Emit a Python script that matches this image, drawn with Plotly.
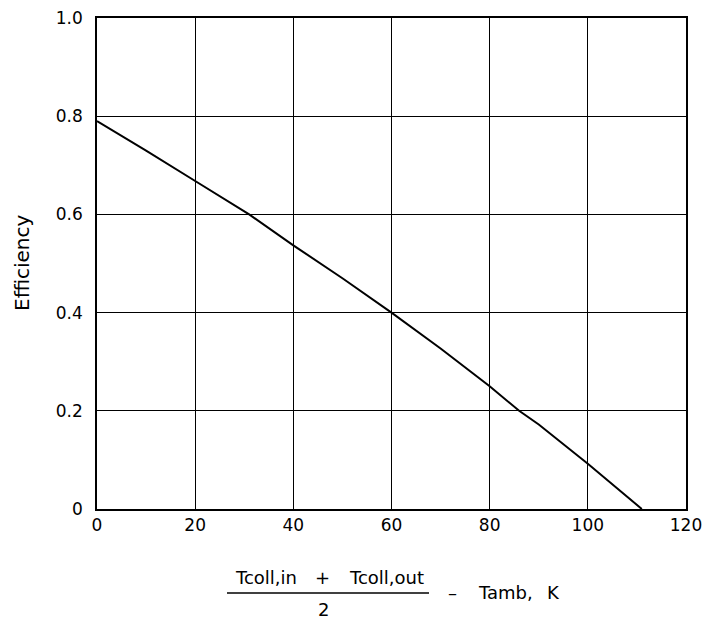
import plotly.graph_objects as go

# Data
temp_diff = [0, 10, 20, 31, 40, 50, 60, 70, 80, 86, 90, 100, 111]
efficiency = [0.79, 0.73, 0.668, 0.60, 0.537, 0.47, 0.40, 0.327, 0.25, 0.20, 0.172, 0.092, 0.0]

x_ticks = [0, 20, 40, 60, 80, 100, 120]
y_ticks = [0, 0.2, 0.4, 0.6, 0.8, 1.0]
y_tick_labels = ["0", "0.2", "0.4", "0.6", "0.8", "1.0"]

W, H = 708, 620
L, R, T, B = 97, 22, 18, 111

PL, PT, PR, PB = L, T, W - R, H - B


def px(xp):
    return (xp - PL) / (PR - PL)


def py(yp):
    return (PB - yp) / (PB - PT)


fig = go.Figure()
fig.add_trace(go.Scatter(x=temp_diff, y=efficiency, mode="lines",
                         line=dict(color="black", width=2), showlegend=False))

fam = "DejaVu Sans, Liberation Sans, Arial, sans-serif"
tick_font = dict(family=fam, size=17, color="black")
title_font = dict(family=fam, size=20, color="black")
xt_font = dict(family=fam, size=18, color="black")

fig.update_layout(
    width=W, height=H,
    margin=dict(l=L, r=R, t=T, b=B, autoexpand=False),
    paper_bgcolor="white", plot_bgcolor="white",
    font=tick_font,
    xaxis=dict(range=[0, 120], tickvals=x_ticks, showgrid=True, gridcolor="black",
               gridwidth=1, showline=True, linecolor="black", linewidth=1.5, mirror=True,
               zeroline=False, ticks="", ticklen=0, tickfont=tick_font, automargin=False,
               ticklabeloverflow="allow"),
    yaxis=dict(range=[0, 1.0], tickvals=y_ticks, ticktext=y_tick_labels, showgrid=True,
               gridcolor="black", gridwidth=1, showline=True, linecolor="black",
               linewidth=1.5, mirror=True, zeroline=False, ticks="outside", ticklen=9,
               tickcolor="rgba(0,0,0,0)", tickfont=tick_font, automargin=False,
               ticklabeloverflow="allow"),
)


def note(text, x, y, font, xanchor="center", **kw):
    fig.add_annotation(text=text, xref="paper", yref="paper", x=px(x), y=py(y),
                       xanchor=xanchor, yanchor="middle", showarrow=False, font=font, **kw)


# y-axis title
note("Efficiency", 22, 263, title_font, textangle=-90)

# x-axis title as a fraction
for txt, cx in [("Tcoll,in", 266), ("+", 322), ("Tcoll,out", 386)]:
    note(txt, cx, 577, xt_font)
fig.add_shape(type="line", xref="paper", yref="paper",
              x0=px(227), x1=px(429), y0=py(593), y1=py(593),
              line=dict(color="black", width=1.5))
note("2", 323, 609, xt_font)
note("–", 452, 592, xt_font)
note("Tamb,", 476, 592, xt_font, xanchor="left")
note("K", 545, 592, xt_font, xanchor="left")

fig.write_html("out.html", post_script="document.body.style.margin='0';",
               config={"displayModeBar": False})
